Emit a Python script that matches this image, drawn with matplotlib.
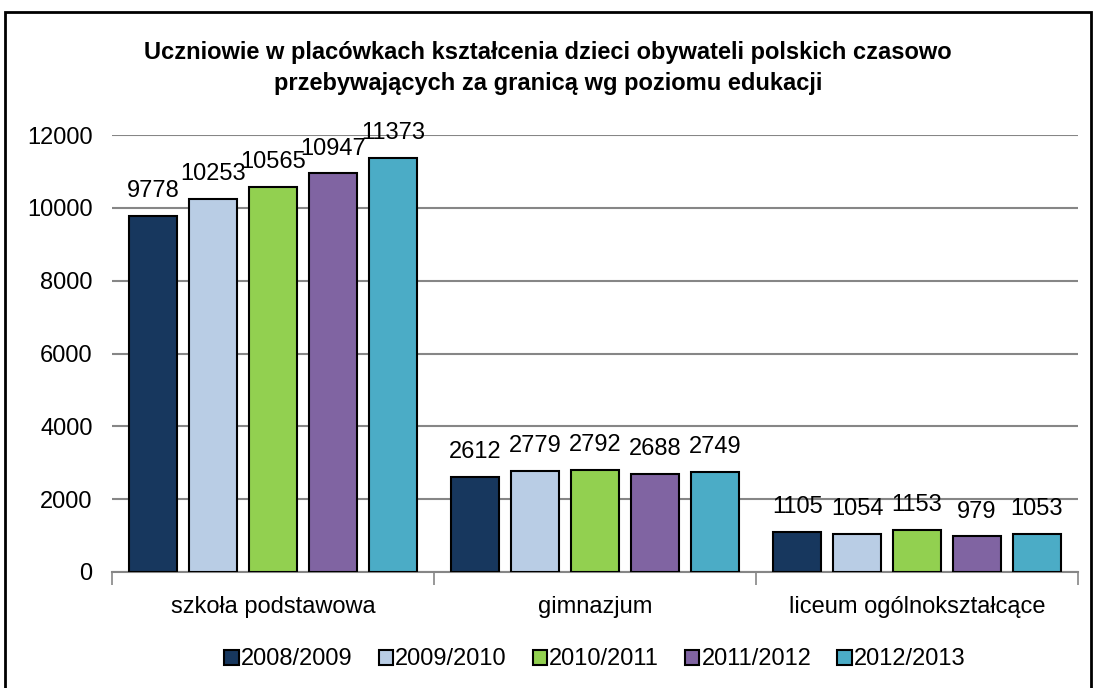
import matplotlib.pyplot as plt
import numpy as np
from matplotlib.patches import Rectangle

plt.rcParams['font.family'] = ['Liberation Sans Narrow', 'Liberation Sans', 'DejaVu Sans']

categories = ['szkoła podstawowa', 'gimnazjum', 'liceum ogólnokształcące']
years = ['2008/2009', '2009/2010', '2010/2011', '2011/2012', '2012/2013']
values = [
    [9778, 2612, 1105],
    [10253, 2779, 1054],
    [10565, 2792, 1153],
    [10947, 2688, 979],
    [11373, 2749, 1053],
]
colors = ['#17375E', '#B9CDE5', '#92D050', '#8064A2', '#4BACC6']

fig = plt.figure(figsize=(10.96, 6.88), dpi=100)
ax = fig.add_axes([112 / 1096, 116 / 688, 966 / 1096, 437 / 688])

# outer frame around the whole chart
fig.patches.append(Rectangle((5 / 1096, -0.05), 1086 / 1096, (676 / 688) + 0.05,
                             transform=fig.transFigure, fill=False,
                             edgecolor='black', linewidth=2))

x = np.arange(len(categories))
width = 0.149
step = 0.186
for i, (yr, vals) in enumerate(zip(years, values)):
    pos = x + (i - 2) * step
    bars = ax.bar(pos, vals, width, color=colors[i], edgecolor='black',
                  linewidth=1.5, label=yr, zorder=3)
    for b, v in zip(bars, vals):
        ax.text(b.get_x() + b.get_width() / 2, v + 380, str(v),
                ha='center', va='bottom', fontsize=17)

ax.set_xlim(-0.5, 2.5)
ax.set_ylim(0, 12000)
ax.set_yticks(range(0, 12001, 2000))
ax.tick_params(axis='y', length=0, labelsize=17, pad=14)
ax.yaxis.grid(True, color='#868686', linewidth=1.5, zorder=0)
ax.set_axisbelow(True)

ax.set_xticks(x)
ax.set_xticklabels(categories, fontsize=17)
ax.tick_params(axis='x', length=0, pad=17)
ax.set_xticks([-0.5, 0.5, 1.5, 2.5], minor=True)
ax.tick_params(axis='x', which='minor', length=9, width=1.2, color='#868686')

for s in ['top', 'right', 'left']:
    ax.spines[s].set_visible(False)
ax.spines['bottom'].set_color('#868686')
ax.spines['bottom'].set_linewidth(1.5)

fig.text(0.5, 0.901, 'Uczniowie w placówkach kształcenia dzieci obywateli polskich czasowo\n'
         'przebywających za granicą wg poziomu edukacji',
         ha='center', va='center', fontsize=17, fontweight='bold', linespacing=1.45)

ax.legend(loc='center', bbox_to_anchor=(0.5, -0.2), ncol=5, frameon=False,
          fontsize=17, handlelength=0.6, handleheight=0.6, handletextpad=0.1,
          columnspacing=1.1)

fig.savefig('out.png', dpi=100)
